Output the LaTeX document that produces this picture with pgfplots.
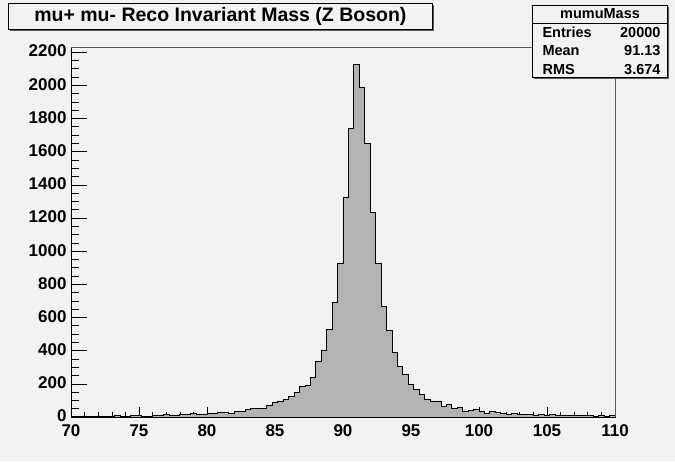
\documentclass[border=0pt]{standalone}
\usepackage{fontspec}
\setmainfont{Liberation Sans}
\usepackage{pgfplots}
\pgfplotsset{compat=1.18}
\usepackage{pgfplotstable}
\definecolor{bg}{RGB}{242,242,242}
\definecolor{histfill}{RGB}{179,179,179}
\definecolor{shadow}{RGB}{90,90,90}
\pgfplotstableread{
x y
70.0 4
70.4 4
70.8 2
71.2 4
71.6 2
72.0 4
72.4 6
72.8 4
73.2 10
73.6 6
74.0 4
74.4 8
74.8 10
75.2 6
75.6 4
76.0 10
76.4 12
76.8 14
77.2 12
77.6 12
78.0 16
78.4 14
78.8 22
79.2 18
79.6 18
80.0 24
80.4 24
80.8 30
81.2 26
81.6 24
82.0 36
82.4 36
82.8 46
83.2 52
83.6 52
84.0 52
84.4 70
84.8 87
85.2 95
85.6 107
86.0 123
86.4 147
86.8 185
87.2 191
87.6 238
88.0 334
88.4 403
88.8 528
89.2 693
89.6 924
90.0 1327
90.4 1740
90.8 2127
91.2 1990
91.6 1651
92.0 1231
92.4 929
92.8 667
93.2 521
93.6 389
94.0 306
94.4 258
94.8 197
95.2 167
95.6 137
96.0 109
96.4 93
96.8 97
97.2 64
97.6 76
98.0 50
98.4 56
98.8 32
99.2 40
99.6 48
100.0 32
100.4 24
100.8 34
101.2 28
101.6 20
102.0 18
102.4 22
102.8 16
103.2 16
103.6 14
104.0 12
104.4 16
104.8 12
105.2 14
105.6 10
106.0 8
106.4 8
106.8 10
107.2 8
107.6 10
108.0 8
108.4 6
108.8 8
109.2 6
109.6 8
110.0 8
}\mumu
\begin{document}
\begin{tikzpicture}[x=1pt,y=1pt]
\fill[bg] (0,0) rectangle (675,461);
\begin{axis}[
  at={(71pt,44pt)}, anchor=south west,
  scale only axis, width=544pt, height=370pt,
  xmin=70, xmax=110, ymin=0, ymax=2231,
  xtick={70,75,...,110}, minor x tick num=4,
  ytick={0,200,...,2200}, minor y tick num=3,
  xtick pos=bottom, ytick pos=left,
  tick align=inside,
  major tick length=10pt, minor tick length=5pt,
  y tick style={/pgfplots/major tick length=16pt, /pgfplots/minor tick length=8pt},
  every tick/.style={black, line width=0.6pt},
  axis line style={black, line width=0.8pt},
  axis background/.style={fill=bg},
  /pgf/number format/assume math mode=true,
  /pgf/number format/1000 sep={},
  tick label style={font=\bfseries\fontsize{17}{17}\selectfont},
  xticklabel style={yshift=-4.5pt},
  yticklabel style={xshift=-1pt, yshift=1pt},
  clip=false,
]
\addplot[const plot, fill=histfill, draw=black, line width=0.8pt] table[x=x,y=y] {\mumu} \closedcycle;
\draw[gray!70!black, line width=0.8pt] (rel axis cs:0,1) -- (rel axis cs:1,1) -- (rel axis cs:1,0);
\end{axis}
% title box
\fill[shadow] (10,456) rectangle (434,430);
\node[draw=black, fill=bg, line width=0.8pt, anchor=north west, minimum width=424pt, minimum height=26pt, inner sep=0pt,
  font=\bfseries\fontsize{19.5}{19.5}\selectfont] at (8,458) {mu+ mu- Reco Invariant Mass (Z Boson)};
% stats box
\fill[shadow] (534,454) rectangle (669,382);
\filldraw[draw=black, fill=bg, line width=0.8pt] (532,456) rectangle (667,384);
\draw[black, line width=0.8pt] (532,438) -- (667,438);
\begin{scope}[font=\bfseries\fontsize{14.5}{14.5}\selectfont]
\node at (600,447) {mumuMass};
\node[anchor=west] at (539,428.5) {Entries};
\node[anchor=east] at (664,428.5) {20000};
\node[anchor=west] at (539,410) {Mean};
\node[anchor=east] at (664,410) {91.13};
\node[anchor=west] at (539,391.5) {RMS};
\node[anchor=east] at (664,391.5) {3.674};
\end{scope}
\end{tikzpicture}
\end{document}
